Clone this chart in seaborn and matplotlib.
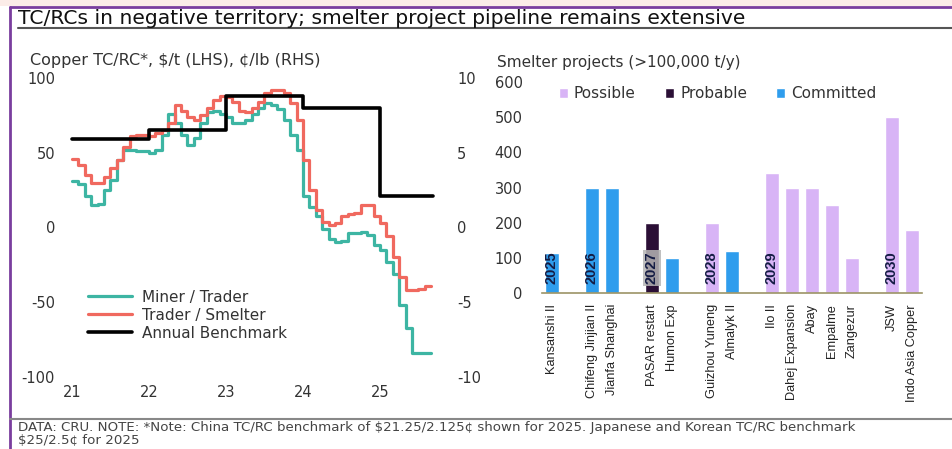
import numpy as np
import pandas as pd
import matplotlib
matplotlib.use("Agg")
import matplotlib.pyplot as plt
from matplotlib.lines import Line2D
from matplotlib.patches import Rectangle
import seaborn as sns

# Copper TC/RC, $/t, monthly Jan-21 .. Aug-25 (last value repeated to close the step)
miner_trader = [31, 29, 21, 15, 16, 25, 32, 45, 52, 52, 51, 51,
                50, 52, 62, 76, 70, 62, 55, 60, 70, 77, 78, 76,
                74, 70, 70, 72, 76, 80, 83, 82, 79, 72, 62, 52,
                21, 14, 8, -1, -8, -10, -9, -4, -4, -3, -5, -12,
                -15, -23, -31, -52, -67, -84, -84, -84, -84]
trader_smelter = [46, 42, 35, 30, 30, 34, 40, 45, 54, 61, 62, 62,
                  61, 63, 65, 70, 82, 78, 74, 72, 75, 80, 85, 88,
                  87, 84, 78, 77, 80, 84, 90, 92, 92, 90, 83, 72,
                  45, 25, 12, 4, 2, 3, 8, 9, 10, 15, 15, 8,
                  3, -6, -20, -33, -42, -42, -41, -39, -39]
bench_years = [21, 22, 23, 24, 25, 25.69]
bench_values = [59.5, 65, 88, 80, 21.25, 21.25]
year_ticks = [21, 22, 23, 24, 25]

# smelter projects (>100,000 t/y); blank names are the gaps between years
slots = ["Kansanshi II", " ", "Chifeng Jinjian II", "Jianfa Shanghai", "  ",
         "PASAR restart", "Humon Exp", "   ", "Guizhou Yuneng", "Almalyk II", "    ",
         "Ilo II", "Dahej Expansion", "Abay", "Empalme", "Zangezur", "     ",
         "JSW", "Indo Asia Copper"]
projects = ["Kansanshi II", "Chifeng Jinjian II", "Jianfa Shanghai", "PASAR restart",
            "Humon Exp", "Guizhou Yuneng", "Almalyk II", "Ilo II", "Dahej Expansion",
            "Abay", "Empalme", "Zangezur", "JSW", "Indo Asia Copper"]
capacity = [115, 300, 300, 200, 100, 200, 120, 340, 300, 300, 250, 100, 500, 180]
status = ["Committed", "Committed", "Committed", "Probable", "Committed", "Possible",
          "Committed", "Possible", "Possible", "Possible", "Possible", "Possible",
          "Possible", "Possible"]
year_tags = {"Kansanshi II": "2025", "Chifeng Jinjian II": "2026", "PASAR restart": "2027",
             "Guizhou Yuneng": "2028", "Ilo II": "2029", "JSW": "2030"}

TEAL = "#3db5a3"
RED = "#f0695f"
colors = {"Possible": "#d8b4f6", "Probable": "#2b0f36", "Committed": "#2f9ded"}

sns.set_theme(style="white")
plt.rcParams["font.family"] = ["DejaVu Sans"]
plt.rcParams["axes.unicode_minus"] = False
TXT = "#333333"
NARROW = ["Liberation Sans", "DejaVu Sans"]

W, H = 953, 449
fig = plt.figure(figsize=(W / 100, H / 100), dpi=100)


def box(x0, y0, x1, y1):
    # pixel box (top-left origin) -> figure fraction rect
    return [x0 / W, 1 - y1 / H, (x1 - x0) / W, (y1 - y0) / H]


# ---- left: TC/RC lines
ax = fig.add_axes(box(62, 78, 450, 377))
months = 21 + np.arange(len(miner_trader)) / 12
lines = pd.DataFrame({"year": months, "Miner / Trader": miner_trader,
                      "Trader / Smelter": trader_smelter})
sns.lineplot(data=lines, x="year", y="Miner / Trader", ax=ax, color=TEAL, lw=2.3,
             drawstyle="steps-post", label="Miner / Trader")
sns.lineplot(data=lines, x="year", y="Trader / Smelter", ax=ax, color=RED, lw=2.3,
             drawstyle="steps-post", label="Trader / Smelter")
sns.lineplot(x=bench_years, y=bench_values, ax=ax, color="black", lw=2.6,
             drawstyle="steps-post", label="Annual Benchmark")
ax.set_xlim(20.87, 25.91)
ax.set_ylim(-100, 100)
ax.set_xticks(year_ticks)
ax.set_xticklabels([str(y) for y in year_ticks])
ax.set_yticks([-100, -50, 0, 50, 100])
ax.set_xlabel("")
ax.set_ylabel("")
ax.tick_params(length=0, labelsize=10.5, colors=TXT, pad=5)
ax.tick_params(axis="x", pad=6)
sns.despine(ax=ax, left=True, bottom=True)
ax.legend(loc="upper left", bbox_to_anchor=(80 / W, 1 - 282 / H),
          bbox_transform=fig.transFigure, frameon=False, fontsize=11,
          handlelength=2.9, handletextpad=0.65, labelspacing=0.2, borderpad=0,
          labelcolor=TXT)

ax2 = ax.twinx()
ax2.set_ylim(-10, 10)
ax2.set_yticks([-10, -5, 0, 5, 10])
ax2.tick_params(length=0, labelsize=10.5, colors=TXT, pad=5)
sns.despine(ax=ax2, left=True, bottom=True, right=True)
ax2.grid(False)

# ---- right: smelter projects bars
bx = fig.add_axes(box(542, 82, 922, 293))
bars = pd.DataFrame({"project": projects, "capacity": capacity, "status": status})
sns.barplot(data=bars, x="project", y="capacity", hue="status", order=slots,
            hue_order=["Possible", "Probable", "Committed"], palette=colors,
            dodge=False, width=0.7, ax=bx, saturation=1)
bx.set_xlim(-0.5, 18.5)
bx.set_ylim(0, 600)
bx.set_yticks(range(0, 601, 100))
bx.set_xlabel("")
bx.set_ylabel("")
bx.tick_params(axis="y", length=0, labelsize=10.5, colors=TXT, pad=14)
bx.tick_params(axis="x", length=0, pad=8)
for lab in bx.get_xticklabels():
    lab.set_rotation(90)
    lab.set_fontsize(9.2)
    lab.set_family(NARROW)
    lab.set_color("#222222")
bx.set_xticks(np.arange(-0.5, 18.6, 1), minor=True)
bx.tick_params(axis="x", which="minor", length=3, width=1, color="#9c9466", direction="out")
sns.despine(ax=bx, left=True)
bx.spines["bottom"].set_color("#9c9466")
bx.spines["bottom"].set_linewidth(1.2)

for name, tag in year_tags.items():
    i = slots.index(name)
    kw = {}
    if tag == "2027":
        kw["bbox"] = dict(boxstyle="square,pad=0.12", fc="#b5b5b5", ec="none", alpha=0.85)
    bx.text(i, 25, tag, rotation=90, ha="center", va="bottom", fontsize=10.5,
            fontweight="bold", color="#141c44", family=NARROW, **kw)

h, l = bx.get_legend_handles_labels()
bx.legend(h, l, loc="center left", bbox_to_anchor=(551 / W, 1 - 94 / H),
          bbox_transform=fig.transFigure, ncol=3, frameon=False, fontsize=11,
          handlelength=0.6, handleheight=0.6, handletextpad=0.4, columnspacing=1.9,
          borderpad=0, labelcolor=TXT)

# ---- titles, frame and note
fig.text(18 / W, 1 - 18 / H, "TC/RCs in negative territory; smelter project pipeline remains extensive",
         fontsize=14.6, va="center", ha="left", color="#111111")
fig.text(30 / W, 1 - 60 / H, "Copper TC/RC*, $/t (LHS), ¢/lb (RHS)", fontsize=11.5,
         va="center", ha="left", color=TXT)
fig.text(497 / W, 1 - 62 / H, "Smelter projects (>100,000 t/y)", fontsize=11,
         va="center", ha="left", color=TXT)
fig.text(18 / W, 1 - 427 / H,
         "DATA: CRU. NOTE: *Note: China TC/RC benchmark of $21.25/2.125¢ shown for 2025. "
         "Japanese and Korean TC/RC benchmark", fontsize=9.6, va="center", ha="left",
         color="#444444")
fig.text(18 / W, 1 - 441 / H, "$25/2.5¢ for 2025", fontsize=9.6, va="center",
         ha="left", color="#444444")

fig.add_artist(Rectangle((0, 1 - 6 / H), 1, 6 / H, transform=fig.transFigure,
                         fc="#fbece8", ec="none"))
purple = "#7a3d9e"
fig.add_artist(Line2D([10 / W, 1], [1 - 7 / H] * 2, color=purple, lw=2))
fig.add_artist(Line2D([10 / W] * 2, [0, 1 - 7 / H], color=purple, lw=2))
fig.add_artist(Line2D([18 / W, 1], [1 - 28 / H] * 2, color="#555555", lw=1.5))
fig.add_artist(Line2D([10 / W, 1], [1 - 419 / H] * 2, color="#888888", lw=1.5))

fig.savefig("out.png", dpi=100)
